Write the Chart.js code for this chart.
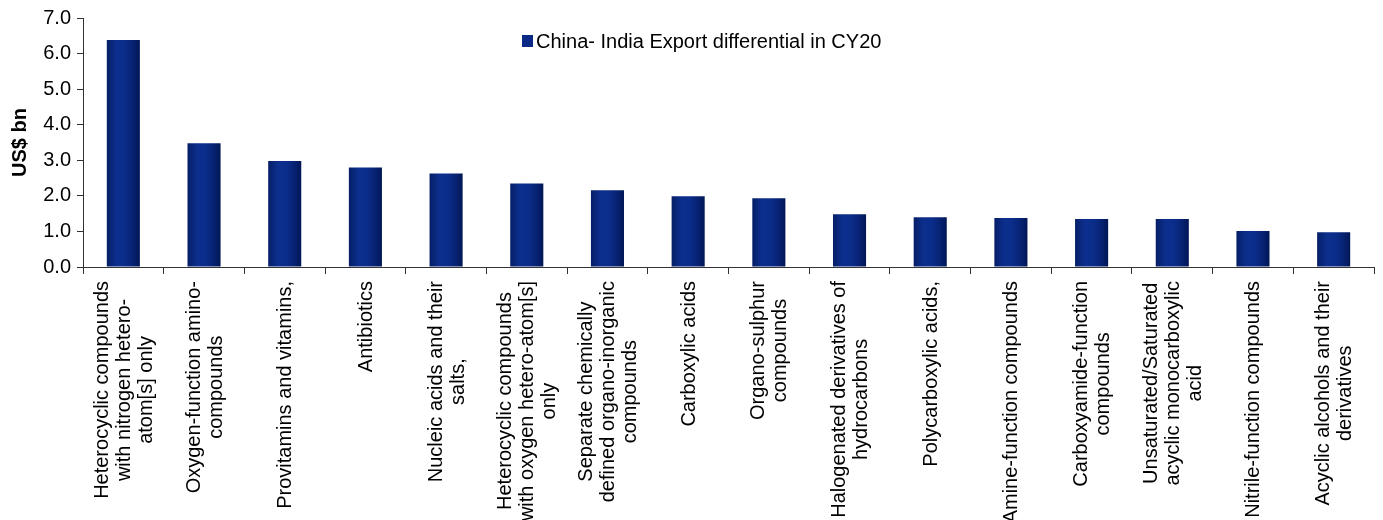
<!DOCTYPE html>
<html>
<head>
<meta charset="utf-8">
<script src="https://cdn.jsdelivr.net/npm/chart.js@4"></script>
<style>
  body { margin: 0; background: #fff; }
  #wrap { width: 1383px; height: 520px; }
</style>
</head>
<body>
<div id="wrap"><canvas id="barChart" width="1383" height="520"></canvas></div>
<script>
// categories (multi-line labels as in the source)
const categories = [
    ['Heterocyclic compounds', 'with nitrogen hetero-', 'atom[s] only'],
    ['Oxygen-function amino-', 'compounds'],
    ['Provitamins and vitamins,'],
    ['Antibiotics'],
    ['Nucleic acids and their', 'salts,'],
    ['Heterocyclic compounds', 'with oxygen hetero-atom[s]', 'only'],
    ['Separate chemically', 'defined organo-inorganic', 'compounds'],
    ['Carboxylic acids'],
    ['Organo-sulphur', 'compounds'],
    ['Halogenated derivatives of', 'hydrocarbons'],
    ['Polycarboxylic acids,'],
    ['Amine-function compounds'],
    ['Carboxyamide-function', 'compounds'],
    ['Unsaturated/Saturated', 'acyclic monocarboxylic', 'acid'],
    ['Nitrile-function compounds'],
    ['Acyclic alcohols and their', 'derivatives']
];
const seriesName = 'China- India Export differential in CY20';
const exportDiff = [6.38, 3.48, 2.98, 2.80, 2.63, 2.35, 2.16, 1.99, 1.93, 1.48, 1.40, 1.38, 1.35, 1.35, 1.01, 0.98];
const yTicks = [0, 1, 2, 3, 4, 5, 6, 7];

const FONT = "'Liberation Sans', Arial, sans-serif";
const BAR_PCT = 0.41;

Chart.defaults.font.family = FONT;
Chart.defaults.font.size = 20;
Chart.defaults.color = '#000';

// horizontal shading on each bar, like the original
function barFill(ctx) {
    const chart = ctx.chart;
    const xs = chart.scales && chart.scales.x;
    if (!xs || ctx.type !== 'data') return '#0b2a85';
    const cx = xs.getPixelForValue(ctx.dataIndex);
    const half = (xs.width / categories.length) * BAR_PCT / 2;
    if (!isFinite(cx) || !isFinite(half) || half <= 0) return '#0b2a85';
    const g = chart.ctx.createLinearGradient(cx - half, 0, cx + half, 0);
    g.addColorStop(0, '#061e66');
    g.addColorStop(0.3, '#0c2f8e');
    g.addColorStop(0.55, '#0b2d8a');
    g.addColorStop(0.8, '#072272');
    g.addColorStop(1, '#011654');
    return g;
}

// rotated, centred category labels
const xLabels = {
    id: 'xLabels',
    afterDraw(chart) {
        const xs = chart.scales.x;
        const c = chart.ctx;
        const lh = 22;
        c.save();
        c.font = '20px ' + FONT;
        c.fillStyle = '#000';
        c.textAlign = 'center';
        c.textBaseline = 'middle';
        categories.forEach((lines, i) => {
            const x = xs.getPixelForTick(i) + 1;
            const maxW = Math.max(...lines.map(l => c.measureText(l).width));
            c.save();
            c.translate(x, xs.top + 14);
            c.rotate(-Math.PI / 2);
            lines.forEach((l, j) => {
                c.fillText(l, -maxW / 2, (j - (lines.length - 1) / 2) * lh);
            });
            c.restore();
        });
        c.restore();
    }
};

// legend floating inside the plot
const floatLegend = {
    id: 'floatLegend',
    afterDraw(chart) {
        const c = chart.ctx;
        c.save();
        c.fillStyle = '#0b2a85';
        c.fillRect(522, 35, 11, 12);
        c.font = '20px ' + FONT;
        c.fillStyle = '#000';
        c.textBaseline = 'middle';
        c.fillText(chart.data.datasets[0].label, 536, 42);
        c.restore();
    }
};

const chart = new Chart(document.getElementById('barChart').getContext('2d'), {
    type: 'bar',
    data: {
        labels: categories.map(l => l.join(' ')),
        datasets: [{
            label: seriesName,
            data: exportDiff,
            backgroundColor: barFill,
            borderWidth: 0,
            barPercentage: BAR_PCT,
            categoryPercentage: 1
        }]
    },
    options: {
        responsive: false,
        animation: false,
        layout: { padding: { top: 18, right: 9, left: 8, bottom: 0 } },
        plugins: {
            legend: { display: false },
            tooltip: { enabled: false }
        },
        scales: {
            x: {
                ticks: { display: false },
                grid: { drawOnChartArea: false, tickLength: 7, color: '#333' },
                border: { color: '#333', width: 1 },
                afterFit(scale) { scale.height = 253; }
            },
            y: {
                min: 0,
                max: 7,
                afterBuildTicks(scale) { scale.ticks = yTicks.map(v => ({ value: v })); },
                ticks: { padding: 6, callback: v => v.toFixed(1) },
                grid: { drawOnChartArea: false, tickLength: 6, color: '#333' },
                border: { color: '#333', width: 1 },
                title: { display: true, text: 'US$ bn', font: { weight: 'bold', size: 20 }, padding: { top: 0, bottom: 4 } },
                afterFit(scale) { scale.width = 75; }
            }
        }
    },
    plugins: [xLabels, floatLegend]
});
// re-run once so the bar shading picks up the final layout
chart.update();
</script>
</body>
</html>
